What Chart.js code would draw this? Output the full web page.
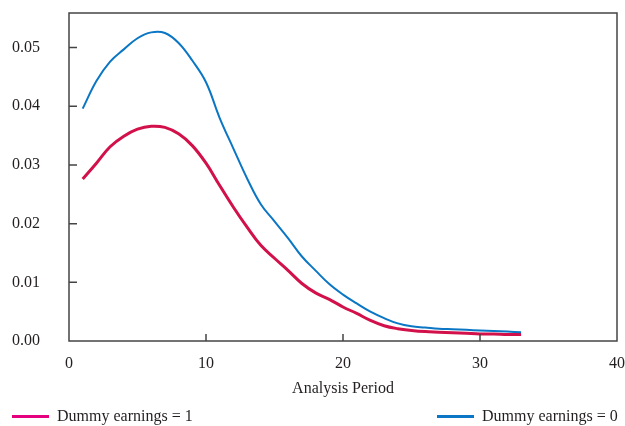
<!DOCTYPE html>
<html>
<head>
<meta charset="utf-8">
<script src="https://cdn.jsdelivr.net/npm/chart.js@4.4.1/dist/chart.umd.min.js"></script>
<style>
  html, body { margin: 0; padding: 0; background: #fff; }
  #wrap { position: relative; width: 625px; height: 426px; }
  .leg { position: absolute; top: 407px; font: 16px "Liberation Serif", serif; color: #231f20; white-space: nowrap; }
  .leg i { display: inline-block; width: 37px; height: 3px; vertical-align: middle; margin-right: 8px; position: relative; top: -1px; }
</style>
</head>
<body>
<div id="wrap">
  <canvas id="chart" width="625" height="426"></canvas>
  <div class="leg" style="left:12px"><i style="background:#e5007d"></i>Dummy earnings = 1</div>
  <div class="leg" style="left:437px"><i style="background:#0a76c4"></i>Dummy earnings = 0</div>
</div>
<script>
// Analysis periods and the two estimated curves
const periods = [1, 2, 3, 4, 5, 6, 7, 8, 9, 10, 11, 12, 13, 14, 15, 16, 17, 18, 19, 20,
                 21, 22, 23, 24, 25, 26, 27, 28, 29, 30, 31, 32, 33];
const earnings1 = [0.0276, 0.0303, 0.0331, 0.0349, 0.0361, 0.0366, 0.0364, 0.0353, 0.0333, 0.0303,
                   0.0265, 0.0228, 0.0194, 0.0163, 0.0141, 0.0120, 0.0098, 0.0082, 0.0071, 0.0058,
                   0.0047, 0.0035, 0.0026, 0.0021, 0.0018, 0.0016, 0.0015, 0.0014, 0.0013, 0.0012,
                   0.0012, 0.0011, 0.0011];
const earnings0 = [0.0396, 0.0443, 0.0476, 0.0497, 0.0516, 0.0526, 0.0525, 0.0508, 0.0478, 0.0441,
                   0.0380, 0.0328, 0.0277, 0.0233, 0.0204, 0.0175, 0.0144, 0.0120, 0.0097, 0.0079,
                   0.0064, 0.0050, 0.0039, 0.0030, 0.0025, 0.0023, 0.0021, 0.0020, 0.0019, 0.0018,
                   0.0017, 0.0016, 0.0015];
const xTicks = [0, 10, 20, 30, 40];
const yTicks = [0, 0.01, 0.02, 0.03, 0.04, 0.05];

const axisColor = '#444';
const font = { family: '"Liberation Serif", serif', size: 16 };

// frame around the plot plus inward tick marks
const framePlugin = {
    id: 'frame',
    afterDraw(chart) {
        const { ctx, chartArea: a, scales } = chart;
        ctx.save();
        ctx.strokeStyle = axisColor;
        ctx.lineWidth = 1.5;
        ctx.strokeRect(a.left, a.top, a.right - a.left, a.bottom - a.top);
        ctx.beginPath();
        yTicks.slice(1).forEach(v => {
            const y = scales.y.getPixelForValue(v);
            ctx.moveTo(a.left, y);
            ctx.lineTo(a.left + 8, y);
        });
        xTicks.slice(1, -1).forEach(v => {
            const x = scales.x.getPixelForValue(v);
            ctx.moveTo(x, a.bottom);
            ctx.lineTo(x, a.bottom - 7);
        });
        ctx.stroke();
        ctx.restore();
    }
};

function noPad(s) {
    s.paddingTop = 0;
    s.paddingBottom = 0;
    s.paddingLeft = 0;
    s.paddingRight = 0;
}

const ctx = document.getElementById('chart').getContext('2d');
new Chart(ctx, {
    type: 'line',
    data: {
        datasets: [{
            label: 'Dummy earnings = 0',
            data: periods.map((p, i) => ({ x: p, y: earnings0[i] })),
            borderColor: '#0a76c4',
            borderWidth: 2,
            pointRadius: 0,
            tension: 0.4
        }, {
            label: 'Dummy earnings = 1',
            data: periods.map((p, i) => ({ x: p, y: earnings1[i] })),
            borderColor: '#d2104a',
            borderWidth: 3,
            pointRadius: 0,
            tension: 0.4
        }]
    },
    options: {
        responsive: false,
        animation: false,
        layout: { padding: { top: 13, right: 8, left: 0, bottom: 0 } },
        scales: {
            x: {
                type: 'linear',
                min: 0,
                max: 40,
                afterFit(s) { s.height = 85; noPad(s); },
                afterBuildTicks(s) { s.ticks = xTicks.map(v => ({ value: v })); },
                grid: { display: false, drawTicks: false },
                border: { display: false },
                ticks: { color: '#231f20', font: font, padding: 13, maxRotation: 0 },
                title: {
                    display: true,
                    text: 'Analysis Period',
                    color: '#231f20',
                    font: font,
                    padding: { top: 0, bottom: 28 }
                }
            },
            y: {
                min: 0,
                max: 0.0559,
                afterFit(s) { s.width = 69; noPad(s); },
                afterBuildTicks(s) { s.ticks = yTicks.map(v => ({ value: v })); },
                grid: { display: false, drawTicks: false },
                border: { display: false },
                ticks: { color: '#231f20', font: font, padding: 29, callback: v => v.toFixed(2) }
            }
        },
        plugins: {
            legend: { display: false },
            tooltip: { enabled: false }
        }
    },
    plugins: [framePlugin]
});
</script>
</body>
</html>
